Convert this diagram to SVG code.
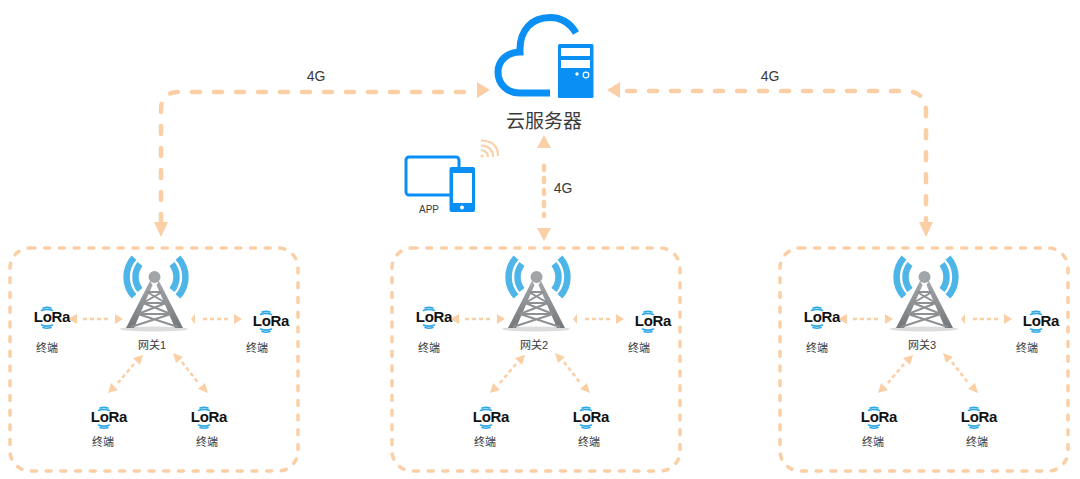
<svg xmlns="http://www.w3.org/2000/svg" xmlns:xlink="http://www.w3.org/1999/xlink" width="1080" height="479" viewBox="0 0 1080 479">
<style>
text{font-family:"Liberation Sans","Noto Sans CJK SC",sans-serif;fill:#3a3a3a;text-anchor:middle}
.box{fill:none;stroke:#fbcfa6;stroke-width:3.5;stroke-linecap:round;stroke-dasharray:5 9.700}
.main{fill:none;stroke:#fbcfa6;stroke-width:4.500;stroke-linecap:round;stroke-dasharray:8 14}
.dots{fill:none;stroke:#fbcfa6;stroke-width:4.500;stroke-linecap:round;stroke-dasharray:4 8}
.small{fill:none;stroke:#fbcfa6;stroke-width:2.500;stroke-dasharray:4 3}
.head{fill:#fbcfa6}
.lab{font-size:11px}
.lora{font-size:15px;font-weight:bold;fill:#111;letter-spacing:-.3px}
.lw{fill:none;stroke:#2fa9e6;stroke-width:1.600;stroke-linecap:round}
.wave{fill:none;stroke:#4db5e8;stroke-width:6.500;stroke-linecap:butt}
.steel{fill:none;stroke:#8d9194;stroke-width:2}
.blue{fill:#0a8ff5}
</style>
<defs>
<linearGradient id="leg" x1="0" y1="0" x2="0" y2="1"><stop offset="0" stop-color="#a5a8aa"/><stop offset="1" stop-color="#74787b"/></linearGradient>
<g id="terminal">
<path class="lw" d="M8 -14Q12 -15.500 16 -14M6.500 -11.500Q12 -13.800 17.500 -11.500M6.500 3Q12 5.300 17.500 3M8 5.500Q12 7 16 5.500"/>
<text class="lora" x="17" y="0">LoRa</text>
</g>
<g id="tower">
<path class="wave" d="M134 257.600A29 29 0 0 0 134 296.400M140 264A21 21 0 0 0 140 290"/>
<path class="wave" d="M178 257.600A29 29 0 0 1 178 296.400M172 264A21 21 0 0 1 172 290"/>
<ellipse cx="154" cy="329" rx="34" ry="2.500" fill="#dcdcdc"/>
<path d="M150 281L126 328L134 328L152.500 285ZM159 281L183 328L175 328L156.500 285Z" fill="url(#leg)"/>
<path class="steel" d="M147 292H162M143 303H166M138 314H171M147 292L166 303M162 292L143 303M143 303L171 314M166 303L138 314M138 314L178 327M171 314L131 327"/>
<circle cx="154.500" cy="277" r="6" fill="#a2a5a7"/>
</g>
<g id="links">
<path class="head" d="M68 319L77 314V324ZM123 319L115 314V324ZM191 319L195 314V324ZM242 319L234 314V324Z"/>
<path class="small" d="M83 319H110M203 319H228"/>
<path class="head" d="M143 355L133 358L140 365ZM108 393L118 390L111 383ZM173 353L176 363L183 357ZM208 393L205 383L198 389Z"/>
<path class="small" d="M134 364L117 384M182 362L199 384"/>
</g>
<g id="cluster-base">
<rect class="box" x="10" y="248" width="288" height="223" rx="20"/>
<use xlink:href="#links" href="#links"/>
<use xlink:href="#tower" href="#tower"/>
<use xlink:href="#terminal" href="#terminal" x="35" y="322"/>
<use xlink:href="#terminal" href="#terminal" x="254" y="326"/>
<use xlink:href="#terminal" href="#terminal" x="92" y="422"/>
<use xlink:href="#terminal" href="#terminal" x="192" y="422"/>
<text class="lab" x="47" y="352">终端</text>
<text class="lab" x="257" y="352">终端</text>
<text class="lab" x="103" y="446">终端</text>
<text class="lab" x="207" y="446">终端</text>
</g>
</defs>
<rect width="1080" height="479" fill="#fff"/>
<g id="connectors">
<path class="main" d="M161 222V110Q161 92 179 92H472"/>
<path class="head" d="M490 90L477 82V98ZM161 237L154 222H168Z"/>
<path class="main" d="M627 91H905Q926 91 926 112V222"/>
<path class="head" d="M607 90L620 82V98ZM926 237L919 222H933Z"/>
<path class="dots" d="M544 166V216"/>
<path class="head" d="M544 135L537 148H551ZM544 241L537 228H551Z"/>
<text x="316" y="81" font-size="14">4G</text>
<text x="770" y="81" font-size="14">4G</text>
<text x="563" y="193" font-size="14">4G</text>
</g>
<g id="cloud-server">
<path fill="none" stroke="#0a8ff5" stroke-width="7" d="M550 93H520C507 93 498 84 498 72C498 60 508 52 520 52C519 30 532 17.500 550 17.500C561 17.500 570 23 576 33"/>
<rect class="blue" x="558" y="44" width="35.500" height="54" rx="1.500"/>
<path fill="#fff" d="M561 48H590V56H561ZM561 60H590V68H561Z"/>
<circle cx="577" cy="74" r="1.700" fill="#fff"/>
<circle cx="586" cy="75" r="2.800" fill="none" stroke="#fff" stroke-width="1.200"/>
<text x="544" y="128" font-size="19">云服务器</text>
</g>
<g id="app">
<rect x="406" y="157" width="53" height="38" rx="3" fill="none" stroke="#0a8ff5" stroke-width="3"/>
<rect class="blue" x="449.500" y="167" width="25.500" height="45" rx="2"/>
<rect x="453" y="173" width="19" height="30" fill="#fff"/>
<circle cx="462" cy="207.500" r="2" fill="#fff"/>
<text x="429" y="213" font-size="10">APP</text>
<path fill="none" stroke="#fbcfa6" stroke-width="2.200" d="M481 150Q488 151 488 157M481 145.500Q493 146 493 157M481 140.500Q498 141 498 156"/>
<circle cx="482" cy="156" r="1.600" fill="#fbcfa6"/>
</g>
<g id="gateway-cluster-1">
<use xlink:href="#cluster-base" href="#cluster-base"/>
<text class="lab" x="152" y="349">网关1</text>
</g>
<g id="gateway-cluster-2" transform="translate(382 0)">
<use xlink:href="#cluster-base" href="#cluster-base"/>
<text class="lab" x="152" y="349">网关2</text>
</g>
<g id="gateway-cluster-3" transform="translate(770 0)">
<use xlink:href="#cluster-base" href="#cluster-base"/>
<text class="lab" x="152" y="349">网关3</text>
</g>
</svg>
